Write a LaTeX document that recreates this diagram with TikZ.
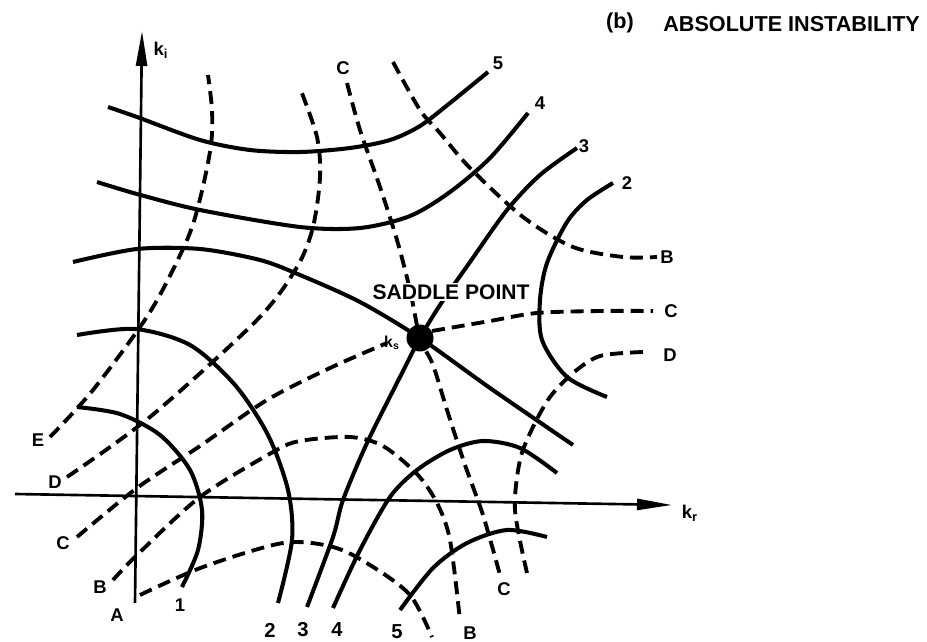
\documentclass[tikz,border=0pt]{standalone}
\usepackage{fontspec}
\setmainfont{Liberation Sans}
\usetikzlibrary{arrows.meta}

\begin{document}
\begin{tikzpicture}[x=0.02cm,y=-0.02cm,
  level/.style={line width=2.3pt},
  phase/.style={line width=2.2pt,dash pattern=on 7.4pt off 4pt},
  axis/.style={line width=1.5pt,-{Triangle[length=0.7cm,width=0.22cm]}},
  lbl/.style={font=\fontsize{10.5}{12}\selectfont\bfseries,inner sep=0pt}]
\useasboundingbox (0,0) rectangle (927,642);
% axes
\coordinate (xs) at (15,494);
\coordinate (xe) at (672,505);
\coordinate (ys) at (135,603);
\coordinate (ye) at (142,31);
\draw[axis] (xs) -- (xe);
\draw[axis] (ys) -- (ye);
\node[lbl] (kr) at (690,513) {k\textsubscript{r}};
\node[lbl] (ki) at (161,50) {k\textsubscript{i}};
% solid curves
\draw[level] plot[smooth] coordinates {(108,107) (137,117) (200,140) (250,150) (300,152) (350,148) (390,140) (420,126) (450,103) (488,72)};
\draw[level] plot[smooth] coordinates {(97,182) (137,194) (200,210) (300,227) (360,228) (410,216) (450,192) (490,158) (528,113)};
\draw[level] plot[smooth] coordinates {(73,262) (137,249) (200,249) (260,260) (300,275) (360,302) (420,338) (490,388) (573,445)};
\draw[level] plot[smooth] coordinates {(307,607) (333,537) (343,500) (367,443) (400,377) (420,338) (440,305) (470,262) (507,210) (540,175) (577,148)};
\draw[level] plot[smooth] coordinates {(77,407) (120,414) (160,435) (190,470) (202,510) (198,550) (182,587)};
\draw[level] plot[smooth] coordinates {(77,335) (135,329) (190,345) (235,385) (268,435) (288,490) (292,540) (278,603)};
\draw[level] plot[smooth] coordinates {(613,183) (587,200) (567,222) (547,263) (540,300) (542,340) (567,377) (607,397)};
\draw[level] plot[smooth] coordinates {(333,608) (360,550) (390,497) (417,470) (450,450) (483,441) (520,448) (557,473)};
\draw[level] plot[smooth] coordinates {(400,610) (433,568) (467,543) (507,530) (547,537)};
% dashed curves
\draw[phase] plot[smooth] coordinates {(140,595) (203,567) (283,543) (333,547) (370,565) (410,595) (432,637)};
\draw[phase] plot[smooth] coordinates {(113,580) (137,555) (200,497) (273,452) (300,441) (350,437) (383,446) (417,474) (437,503) (450,540) (460,620)};
\draw[phase] plot[smooth] coordinates {(77,537) (137,488) (200,446) (267,400) (330,368) (387,343)};
\draw[phase] plot[smooth] coordinates {(432,331) (490,321) (537,313) (600,311) (653,311)};
\draw[phase] plot[smooth] coordinates {(347,83) (360,130) (380,187) (397,240) (410,290) (420,338) (433,365) (447,410) (465,465) (483,515) (500,575)};
\draw[phase] plot[smooth] coordinates {(67,477) (150,417) (257,320) (297,267) (313,227) (320,177) (317,137) (300,88)};
\draw[phase] plot[smooth] coordinates {(643,352) (600,356) (573,373) (550,397) (533,427) (520,460) (515,510) (527,573)};
\draw[phase] plot[smooth] coordinates {(50,437) (93,390) (150,312) (187,240) (201,195) (211,145) (212,110) (208,75)};
\draw[phase] plot[smooth] coordinates {(393,62) (420,110) (440,133) (470,168) (523,217) (573,247) (623,257) (657,257)};
% saddle point
\node[circle,fill,inner sep=0pt,minimum size=0.54cm] (sdl) at (420,338) {};
\node[lbl,font=\fontsize{12}{14}\selectfont\bfseries,fill=white,inner sep=0.6pt] (sdltxt) at (451,292) {SADDLE POINT};
\node[lbl,font=\fontsize{9}{10}\selectfont\bfseries] (ks) at (392,343) {k\textsubscript{s}};
% labels
\node[lbl] (lE) at (38,440) {E};
\node[lbl] (lD) at (55,482) {D};
\node[lbl] (lC) at (63,543) {C};
\node[lbl] (lB) at (100,587) {B};
\node[lbl] (lA) at (117,615) {A};
\node[lbl] (n1) at (180,605) {1};
\node[lbl,font=\fontsize{11.5}{13}\selectfont\bfseries] (b2) at (270,630) {2};
\node[lbl,font=\fontsize{11.5}{13}\selectfont\bfseries] (b3) at (303,630) {3};
\node[lbl,font=\fontsize{11.5}{13}\selectfont\bfseries] (b4) at (337,630) {4};
\node[lbl,font=\fontsize{11.5}{13}\selectfont\bfseries] (b5) at (397,632) {5};
\node[lbl] (bB) at (470,633) {B};
\node[lbl] (bC) at (504,589) {C};
\node[lbl] (rD) at (670,355) {D};
\node[lbl] (rC) at (671,311) {C};
\node[lbl] (rB) at (667,257) {B};
\node[lbl] (t2) at (627,183) {2};
\node[lbl] (t3) at (584,146) {3};
\node[lbl] (t4) at (540,103) {4};
\node[lbl] (t5) at (498,63) {5};
\node[lbl] (tC) at (343,68) {C};
% title
\node[lbl,font=\fontsize{12.3}{14}\selectfont\bfseries] (tag) at (620,23) {(b)};
\node[lbl,font=\fontsize{12.3}{14}\selectfont\bfseries,anchor=west] (title) at (663,24) {ABSOLUTE INSTABILITY};
\end{tikzpicture}
\end{document}
